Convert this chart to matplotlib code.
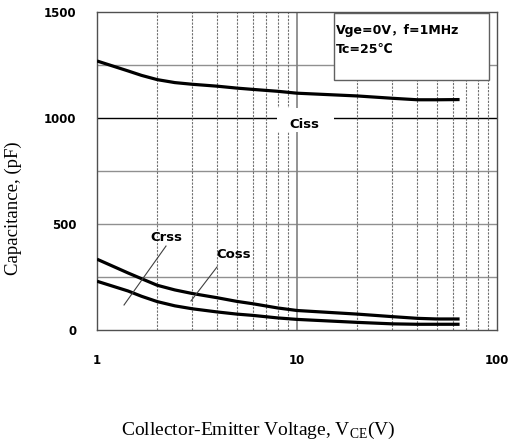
import matplotlib
matplotlib.use("Agg")
import matplotlib.pyplot as plt
from matplotlib.patches import Rectangle

# ---- data ----
vce = [1, 1.43, 1.67, 2, 2.45, 3, 4, 5, 6, 8, 10, 20, 30, 40, 50, 65]
ciss = [1269, 1222, 1201, 1181, 1167, 1159, 1150, 1141, 1135, 1126, 1117, 1104, 1093, 1086, 1086, 1087]
coss = [334, 269, 242, 211, 189, 172, 152, 135, 124, 104, 92, 75, 63, 55, 52, 52]
crss = [230, 184, 159, 134, 114, 100, 85, 75, 69, 57, 50, 36, 29, 27, 27, 27]
yticks = [0, 500, 1000, 1500]
xticks = [1, 10, 100]
xtick_labels = ["1", "10", "100"]
hgrid = [250, 500, 750, 1250]
vminor = [2, 3, 4, 5, 6, 7, 8, 9, 20, 30, 40, 50, 60, 70, 80, 90]

plt.rcParams['mathtext.fontset'] = 'custom'
plt.rcParams['mathtext.rm'] = 'Liberation Serif'

fig = plt.figure(figsize=(5.18, 4.44), dpi=100)
ax = fig.add_axes([97/518, 1-330/444, 400/518, 318/444])

ax.set_xscale('log')
ax.set_xlim(1, 100)
ax.set_ylim(0, 1500)

# grid
for y in hgrid:
    ax.axhline(y, color='#909090', lw=1.0, zorder=1)
ax.axhline(1000, color='black', lw=1.0, zorder=1)
for x in vminor:
    ax.axvline(x, color='#707070', lw=0.8, ls=(0, (2, 1.2)), zorder=1)
ax.axvline(10, color='#808080', lw=1.2, zorder=1)

# curves
for ys in (ciss, coss, crss):
    ax.plot(vce, ys, color='black', lw=2.3, solid_joinstyle='round',
            solid_capstyle='butt', zorder=3)

# condition box
ax.add_patch(Rectangle((15.3, 1179), 91.2 - 15.3, 1497 - 1179, facecolor='white',
                       edgecolor='#606060', lw=1.0, zorder=4))
ax.text(15.7, 1415, "Vge=0V，f=1MHz", fontsize=9, fontweight='bold',
        family=['DejaVu Sans', 'Noto Sans CJK SC'], va='center', ha='left', zorder=5)
ax.text(15.7, 1321, "Tc=25℃", fontsize=9, fontweight='bold',
        family=['DejaVu Sans', 'Noto Sans CJK SC'], va='center', ha='left', zorder=5)

# Ciss label with white background
ax.add_patch(Rectangle((7.94, 934), 15.3 - 7.94, 1047 - 934, facecolor='white',
                       edgecolor='none', zorder=2))
ax.text(10.84, 967, "Ciss", fontsize=9.5, fontweight='bold', ha='center', va='center', zorder=5)

# Crss / Coss labels and leaders
ax.text(2.226, 434, "Crss", fontsize=9.5, fontweight='bold', ha='center', va='center', zorder=5)
ax.text(4.815, 358, "Coss", fontsize=9.5, fontweight='bold', ha='center', va='center', zorder=5)
ax.plot([2.213, 1.365], [396, 118], color='#404040', lw=0.8, zorder=4)
ax.plot([3.98, 2.95], [297, 137], color='#404040', lw=0.8, zorder=4)

# ticks
ax.set_yticks(yticks)
ax.set_yticklabels([str(v) for v in yticks])
ax.set_xticks(xticks)
ax.set_xticklabels(xtick_labels)
ax.minorticks_off()
ax.tick_params(axis='both', length=0, labelsize=8.5)
ax.tick_params(axis='x', pad=17)
ax.tick_params(axis='y', pad=15)
for lbl in ax.get_xticklabels() + ax.get_yticklabels():
    lbl.set_fontweight('bold')

for s in ax.spines.values():
    s.set_color('#505050')
    s.set_linewidth(1.0)

ax.set_ylabel("Capacitance, (pF)", family='Liberation Serif', fontsize=13.5)
ax.yaxis.set_label_coords(-0.1875, 0.384)
ax.set_xlabel(r"Collector-Emitter Voltage, V$_{\mathrm{CE}}$(V)", family='Liberation Serif', fontsize=14)
ax.xaxis.set_label_coords(0.4025, -0.283)

fig.savefig("out.png", dpi=100)
